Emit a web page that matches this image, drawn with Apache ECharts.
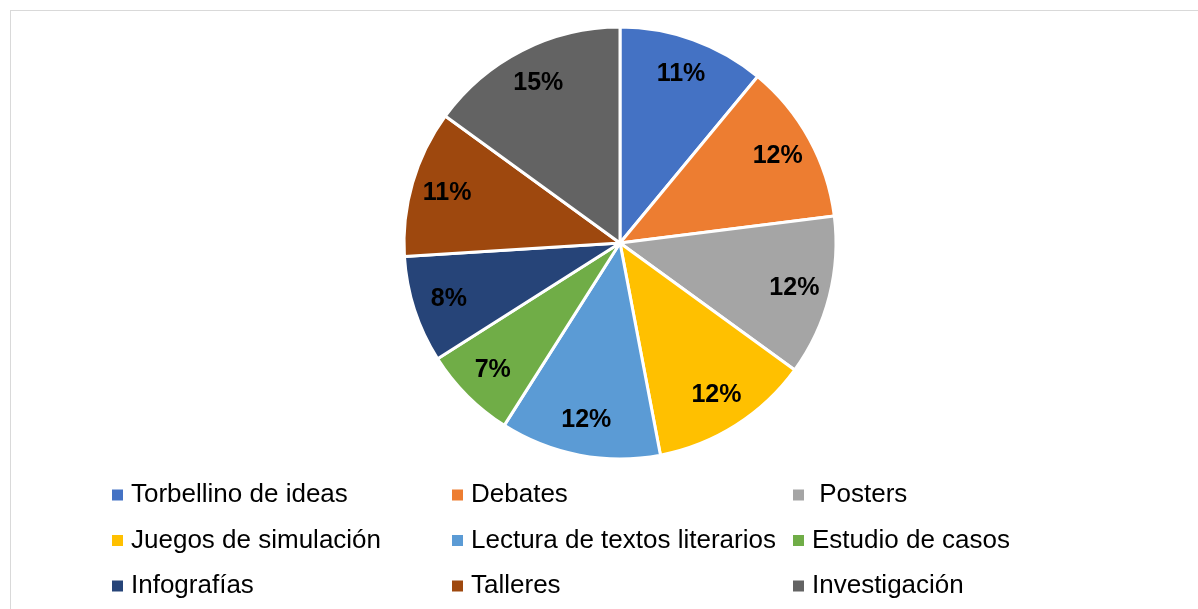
<!DOCTYPE html>
<html>
<head>
<meta charset="utf-8">
<script src="https://cdn.jsdelivr.net/npm/echarts@6/dist/echarts.min.js"></script>
<style>
    html, body { margin: 0; padding: 0; background: #fff; }
    #frame { position: absolute; left: 10px; top: 10px; width: 1300px; height: 700px; border: 1px solid #d9d9d9; box-sizing: border-box; }
    #chart { position: absolute; left: 0; top: 0; width: 1198px; height: 609px; }
</style>
</head>
<body>
<div id="frame"></div>
<div id="chart"></div>
<script>
// Chart data
var categories = ['Torbellino de ideas', 'Debates', ' Posters', 'Juegos de simulación', 'Lectura de textos literarios', 'Estudio de casos', 'Infografías', 'Talleres', 'Investigación'];
var percentages = [11, 12, 12, 12, 12, 7, 8, 11, 15];
var colors = ['#4472C4', '#ED7D31', '#A5A5A5', '#FFC000', '#5B9BD5', '#70AD47', '#264478', '#9E480E', '#636363'];

// Legend columns (row-major order like Excel)
var legendCol1 = [categories[0], categories[3], categories[6]];
var legendCol2 = [categories[1], categories[4], categories[7]];
var legendCol3 = [categories[2], categories[5], categories[8]];

var pieData = categories.map(function (name, i) {
    return { name: name, value: percentages[i] };
});

var chartElement = document.getElementById('chart');
var pieChart = echarts.init(chartElement);

var legendBase = function (data, left) {
    return {
        data: data,
        orient: 'vertical',
        left: left,
        top: 482,
        padding: 0,
        itemWidth: 13,
        itemHeight: 13,
        itemGap: 19.5,
        icon: 'rect',
        selectedMode: false,
        textStyle: {
            fontFamily: 'Liberation Sans, Arial, sans-serif',
            fontSize: 26,
            color: '#000',
            padding: [0, 0, 0, 2]
        }
    };
};

pieChart.setOption({
    color: colors,
    animation: false,
    legend: [
        legendBase(legendCol1, 110),
        legendBase(legendCol2, 450),
        legendBase(legendCol3, 791)
    ],
    series: [
        {
            // Pie slices
            type: 'pie',
            center: [620, 243],
            radius: [0, 216],
            startAngle: 90,
            clockwise: true,
            silent: true,
            itemStyle: {
                borderColor: '#fff',
                borderWidth: 3
            },
            label: { show: false },
            labelLine: { show: false },
            data: pieData
        },
        {
            // Transparent ring used only to place the percentage labels
            type: 'pie',
            center: [620, 243],
            radius: [138, 216],
            startAngle: 90,
            clockwise: true,
            silent: true,
            itemStyle: { color: 'transparent' },
            label: {
                show: true,
                position: 'inside',
                formatter: '{c}%',
                color: '#000',
                fontFamily: 'Liberation Sans, Arial, sans-serif',
                fontWeight: 'bold',
                fontSize: 25
            },
            labelLine: { show: false },
            data: pieData
        }
    ]
});
</script>
</body>
</html>
